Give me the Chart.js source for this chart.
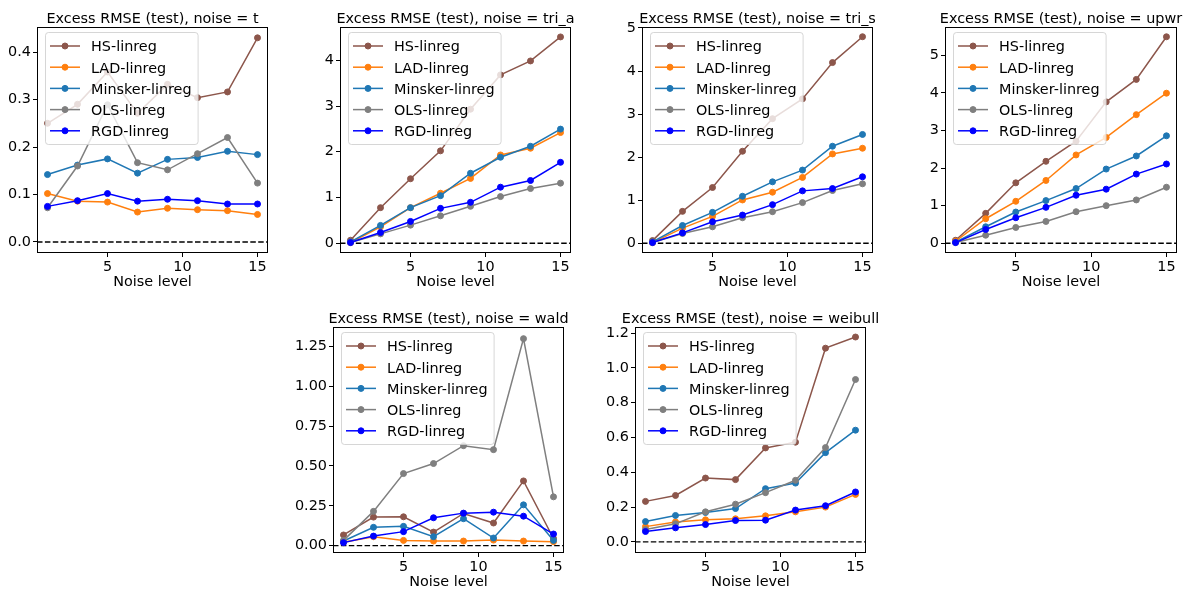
<!DOCTYPE html>
<html><head><meta charset="utf-8">
<script src="https://cdn.jsdelivr.net/npm/chart.js@4"></script>
<style>
html,body{margin:0;padding:0;background:#fff;}
body{width:1192px;height:594px;position:relative;overflow:hidden;}
canvas{position:absolute;}
</style></head><body>
<script>
// ---------- data ----------
const noiseLevels = [1, 3, 5, 7, 9, 11, 13, 15];
const methods = ['HS-linreg', 'LAD-linreg', 'Minsker-linreg', 'OLS-linreg', 'RGD-linreg'];
const xTickValues = [5, 10, 15];

// noise = t
const t_HS      = [0.250, 0.290, 0.358, 0.271, 0.332, 0.304, 0.316, 0.430];
const t_LAD     = [0.102, 0.086, 0.084, 0.063, 0.071, 0.068, 0.066, 0.058];
const t_Minsker = [0.142, 0.162, 0.175, 0.145, 0.174, 0.178, 0.191, 0.184];
const t_OLS     = [0.072, 0.160, 0.289, 0.167, 0.152, 0.186, 0.220, 0.124];
const t_RGD     = [0.075, 0.087, 0.102, 0.086, 0.090, 0.087, 0.080, 0.080];
const t_yTicks  = ['0.0', '0.1', '0.2', '0.3', '0.4'];

// noise = tri_a
const triA_HS      = [0.066, 0.778, 1.410, 2.020, 2.930, 3.680, 3.985, 4.510];
const triA_LAD     = [0.015, 0.360, 0.778, 1.094, 1.417, 1.930, 2.077, 2.420];
const triA_Minsker = [0.030, 0.390, 0.778, 1.040, 1.530, 1.880, 2.120, 2.495];
const triA_OLS     = [0.015, 0.205, 0.396, 0.600, 0.807, 1.020, 1.196, 1.314];
const triA_RGD     = [0.015, 0.235, 0.477, 0.763, 0.895, 1.226, 1.372, 1.769];
const triA_yTicks  = ['0', '1', '2', '3', '4'];

// noise = tri_s
const triS_HS      = [0.062, 0.741, 1.295, 2.137, 2.894, 3.354, 4.197, 4.797];
const triS_LAD     = [0.016, 0.351, 0.624, 1.006, 1.186, 1.529, 2.075, 2.207];
const triS_Minsker = [0.031, 0.413, 0.718, 1.092, 1.427, 1.700, 2.254, 2.527];
const triS_OLS     = [0.016, 0.226, 0.382, 0.593, 0.733, 0.944, 1.225, 1.381];
const triS_RGD     = [0.016, 0.242, 0.500, 0.655, 0.897, 1.217, 1.271, 1.544];
const triS_yTicks  = ['0', '1', '2', '3', '4', '5'];

// noise = upwr
const upwr_HS      = [0.080, 0.795, 1.607, 2.179, 2.714, 3.759, 4.357, 5.490];
const upwr_LAD     = [0.054, 0.652, 1.116, 1.670, 2.348, 2.813, 3.420, 3.990];
const upwr_Minsker = [0.027, 0.438, 0.830, 1.134, 1.455, 1.973, 2.321, 2.857];
const upwr_OLS     = [0.018, 0.214, 0.420, 0.580, 0.839, 1.000, 1.152, 1.490];
const upwr_RGD     = [0.018, 0.366, 0.679, 0.955, 1.277, 1.438, 1.839, 2.107];
const upwr_yTicks  = ['0', '1', '2', '3', '4', '5'];

// noise = wald
const wald_HS      = [0.067, 0.179, 0.181, 0.085, 0.202, 0.142, 0.406, 0.045];
const wald_LAD     = [0.021, 0.056, 0.033, 0.029, 0.029, 0.035, 0.029, 0.025];
const wald_Minsker = [0.029, 0.115, 0.121, 0.056, 0.169, 0.048, 0.256, 0.033];
const wald_OLS     = [0.033, 0.215, 0.452, 0.515, 0.627, 0.602, 1.298, 0.306];
const wald_RGD     = [0.019, 0.060, 0.088, 0.175, 0.204, 0.210, 0.185, 0.073];
const wald_yTicks  = ['0.00', '0.25', '0.50', '0.75', '1.00', '1.25'];

// noise = weibull
const weib_HS      = [0.233, 0.267, 0.367, 0.358, 0.540, 0.573, 1.113, 1.177];
const weib_LAD     = [0.088, 0.115, 0.127, 0.133, 0.150, 0.173, 0.200, 0.273];
const weib_Minsker = [0.117, 0.152, 0.169, 0.192, 0.306, 0.338, 0.513, 0.642];
const weib_OLS     = [0.071, 0.104, 0.173, 0.217, 0.283, 0.354, 0.542, 0.933];
const weib_RGD     = [0.060, 0.081, 0.100, 0.123, 0.125, 0.183, 0.208, 0.287];
const weib_yTicks  = ['0.0', '0.2', '0.4', '0.6', '0.8', '1.0', '1.2'];

// ---------- styles / layout ----------
const colors = ['#8c564b', '#ff7f0e', '#1f77b4', '#7f7f7f', '#0000ff'];
const FONT = '"DejaVu Sans", "Liberation Sans", sans-serif';
const FS = 14.4;
const PADL = 50, PADT = 30, PADR = 40, PADB = 45;

const panels = [
  { name: 't',       series: [t_HS, t_LAD, t_Minsker, t_OLS, t_RGD],                     yTicks: t_yTicks,    yMin: -0.0232, yMax: 0.4528, box: [37, 27, 231, 226] },
  { name: 'tri_a',   series: [triA_HS, triA_LAD, triA_Minsker, triA_OLS, triA_RGD],      yTicks: triA_yTicks, yMin: -0.213,  yMax: 4.727,  box: [340, 27, 231, 226] },
  { name: 'tri_s',   series: [triS_HS, triS_LAD, triS_Minsker, triS_OLS, triS_RGD],      yTicks: triS_yTicks, yMin: -0.226,  yMax: 5.023,  box: [642, 27, 231, 226] },
  { name: 'upwr',    series: [upwr_HS, upwr_LAD, upwr_Minsker, upwr_OLS, upwr_RGD],      yTicks: upwr_yTicks, yMin: -0.259,  yMax: 5.75,   box: [945, 27, 232, 226] },
  { name: 'wald',    series: [wald_HS, wald_LAD, wald_Minsker, wald_OLS, wald_RGD],      yTicks: wald_yTicks, yMin: -0.046,  yMax: 1.371,  box: [333, 327, 231, 226] },
  { name: 'weibull', series: [weib_HS, weib_LAD, weib_Minsker, weib_OLS, weib_RGD],      yTicks: weib_yTicks, yMin: -0.0635, yMax: 1.2346, box: [635, 327, 231, 226] },
];

const decoPlugin = {
  id: 'deco',
  beforeDatasetsDraw(chart) {
    const { ctx, chartArea: ca } = chart;
    const y0 = chart.scales.y.getPixelForValue(0);
    ctx.save();
    ctx.strokeStyle = '#000';
    ctx.lineWidth = 1.3;
    ctx.setLineDash([5.5, 2.4]);
    ctx.beginPath();
    ctx.moveTo(ca.left, y0);
    ctx.lineTo(ca.right, y0);
    ctx.stroke();
    ctx.restore();
  },
  afterDatasetsDraw(chart) {
    const { ctx, chartArea: ca } = chart;
    ctx.save();
    // frame
    ctx.strokeStyle = '#000';
    ctx.lineWidth = 1;
    ctx.strokeRect(ca.left + 0.5, ca.top + 0.5, ca.right - ca.left - 1, ca.bottom - ca.top - 1);
    // legend
    ctx.font = FS + 'px ' + FONT;
    const tw = Math.max(...methods.map(m => ctx.measureText(m).width));
    const lx = ca.left + 8, ly = ca.top + 5;
    const w = 5 + 30 + 11 + tw + 6, h = 112;
    ctx.beginPath();
    ctx.roundRect(lx + 0.5, ly + 0.5, w, h, 3);
    ctx.fillStyle = 'rgba(255,255,255,0.8)';
    ctx.fill();
    ctx.strokeStyle = 'rgba(204,204,204,0.8)';
    ctx.lineWidth = 1;
    ctx.stroke();
    methods.forEach((m, i) => {
      const cy = ly + 14 + i * 21.2;
      ctx.strokeStyle = colors[i];
      ctx.lineWidth = 1.5;
      ctx.beginPath();
      ctx.moveTo(lx + 5, cy);
      ctx.lineTo(lx + 35, cy);
      ctx.stroke();
      ctx.beginPath();
      ctx.arc(lx + 20, cy, 3, 0, Math.PI * 2);
      ctx.fillStyle = colors[i];
      ctx.fill();
      ctx.lineWidth = 1;
      ctx.stroke();
      ctx.fillStyle = '#000';
      ctx.textBaseline = 'alphabetic';
      ctx.textAlign = 'left';
      ctx.fillText(m, lx + 46, cy + 5.3);
    });
    ctx.restore();
  },
  afterDraw(chart) {
    const { ctx, chartArea: ca } = chart;
    ctx.save();
    ctx.font = FS + 'px ' + FONT;
    ctx.fillStyle = '#000';
    ctx.textAlign = 'center';
    ctx.textBaseline = 'alphabetic';
    ctx.fillText(chart.options.panelTitle, (ca.left + ca.right) / 2, ca.top - 4.5);
    ctx.restore();
  }
};

panels.forEach((p, pi) => {
  const [axL, axT, axW, axH] = p.box;
  const cv = document.createElement('canvas');
  const W = PADL + axW + PADR, H = PADT + axH + PADB;
  cv.width = W; cv.height = H;
  cv.style.left = (axL - PADL) + 'px';
  cv.style.top = (axT - PADT) + 'px';
  cv.style.width = W + 'px';
  cv.style.height = H + 'px';
  document.body.appendChild(cv);

  const yVals = p.yTicks.map(Number);
  const datasets = methods.map((m, i) => ({
    label: m,
    data: noiseLevels.map((x, k) => ({ x: x, y: p.series[i][k] })),
    borderColor: colors[i],
    backgroundColor: colors[i],
    pointBackgroundColor: colors[i],
    pointBorderColor: colors[i],
    borderWidth: 1.5,
    pointRadius: 3,
    pointBorderWidth: 1,
    tension: 0,
    order: methods.length - i,
  }));

  new Chart(cv, {
    type: 'line',
    data: { datasets },
    options: {
      panelTitle: 'Excess RMSE (test), noise = ' + p.name,
      responsive: false,
      animation: false,
      devicePixelRatio: 1,
      layout: { padding: { left: 0, top: PADT, right: PADR, bottom: 0 } },
      plugins: { legend: { display: false }, tooltip: { enabled: false }, title: { display: false } },
      scales: {
        x: {
          type: 'linear',
          min: 0.3, max: 15.7,
          afterBuildTicks: s => { s.ticks = xTickValues.map(v => ({ value: v })); },
          afterFit: s => { s.height = PADB; },
          ticks: { color: '#000', font: { family: FONT, size: FS }, padding: 2, maxRotation: 0, autoSkip: false,
                   callback: v => String(v) },
          grid: { display: true, drawOnChartArea: false, drawTicks: true, tickLength: 4, color: '#000', lineWidth: 1 },
          border: { display: false },
          title: { display: true, text: 'Noise level', color: '#000', font: { family: FONT, size: FS }, padding: { top: 0, bottom: 7 } },
        },
        y: {
          type: 'linear',
          min: p.yMin, max: p.yMax,
          afterBuildTicks: s => { s.ticks = yVals.map(v => ({ value: v })); },
          afterFit: s => { s.width = PADL; },
          ticks: { color: '#000', font: { family: FONT, size: FS }, padding: 2, autoSkip: false,
                   callback: (v, i) => p.yTicks[i] },
          grid: { display: true, drawOnChartArea: false, drawTicks: true, tickLength: 4, color: '#000', lineWidth: 1 },
          border: { display: false },
        }
      }
    },
    plugins: [decoPlugin]
  });
});
</script>
</body></html>
